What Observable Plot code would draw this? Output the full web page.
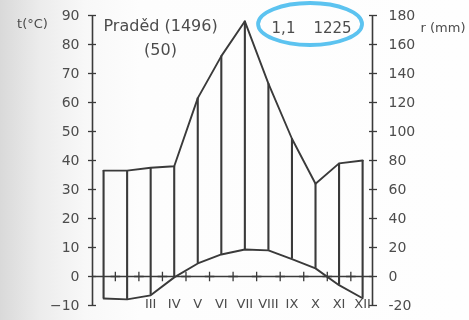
<!DOCTYPE html>
<html><head><meta charset="utf-8">
<script src="https://cdn.jsdelivr.net/npm/d3@7"></script>
<script src="https://cdn.jsdelivr.net/npm/@observablehq/plot@0.6"></script>
<style>
html,body{margin:0;padding:0;width:469px;height:320px;overflow:hidden;
background:linear-gradient(90deg,#d9d9d9 0px,#ececec 40px,#f8f8f8 85px,#fdfdfd 140px,#fefefe 100%);}
#chart svg{display:block;filter:blur(0.45px);}
</style></head><body><div id="chart"></div>
<script>
// Months
const months = [1,2,3,4,5,6,7,8,9,10,11,12];
const monthNames = ["I","II","III","IV","V","VI","VII","VIII","IX","X","XI","XII"];
// Temperature (°C) per month
const tempC = [-7.6, -7.9, -6.5, -0.3, 4.5, 7.6, 9.3, 9.0, 6.0, 2.8, -3.0, -7.5];
// Precipitation (mm) per month
const precipMm = [73, 73, 75, 76, 123, 152, 176, 133, 95, 64, 78, 80];
// Axis ticks
const tempTicks = [-10, 0, 10, 20, 30, 40, 50, 60, 70, 80, 90];
// Month boundary ticks on the zero line
const monthBoundaries = [1.5, 2.5, 3.5, 4.5, 5.5, 6.5, 7.5, 8.5, 9.5, 10.5, 11.5];
// Month labels visible in the picture (I and II are hidden under the bars)
const visibleMonths = [3,4,5,6,7,8,9,10,11,12];
// Header texts
const stationName = "Praděd (1496)";
const yearsText = "(50)";
const meanTempText = "1,1";
const annualPrecipText = "1225";
const leftTitle = "t(°C)";
const rightTitle = "r (mm)";
// x extent of the diagram in month units (axis positions)
const xDomain = [0.53, 12.42];

const data = months.map((m, i) => ({month: m, name: monthNames[i], t: tempC[i], r: precipMm[i]}));
const labelData = data.filter(d => visibleMonths.includes(d.month));

const ink = "#3a3a3a";
const textInk = "#4c4c4c";
const font = "'DejaVu Sans', sans-serif";

const plot = Plot.plot({
  width: 469, height: 320,
  marginLeft: 92, marginRight: 97, marginTop: 15, marginBottom: 15,
  style: {background: "transparent", color: ink, fontFamily: font, fontSize: "14px"},
  x: {domain: xDomain, axis: null},
  y: {domain: [-10, 90]},
  marks: [
    Plot.ruleX(xDomain, {stroke: ink, strokeWidth: 1.6}),
    Plot.ruleY([0], {stroke: ink, strokeWidth: 1.4}),
    Plot.dot(monthBoundaries, {x: d => d, y: 0, symbol: "plus", r: 3.2, stroke: ink, strokeWidth: 1.3}),
    Plot.ruleX(data, {x: "month", y1: "t", y2: d => d.r / 2, stroke: ink, strokeWidth: 2.1}),
    Plot.line(data, {x: "month", y: d => d.r / 2, stroke: ink, strokeWidth: 1.9}),
    Plot.line(data, {x: "month", y: "t", stroke: ink, strokeWidth: 1.9}),
    Plot.axisY({anchor: "left", ticks: tempTicks, tickSize: 4, tickPadding: 9, label: null, fontSize: 14, fill: textInk, stroke: ink, strokeWidth: 1.3}),
    Plot.axisY({anchor: "left", ticks: tempTicks, tickSize: -4, tickFormat: () => "", label: null, stroke: ink, strokeWidth: 1.3}),
    Plot.axisY({anchor: "right", ticks: tempTicks, tickSize: 4, tickPadding: 12, tickFormat: d => String(d * 2), label: null, fontSize: 14, fill: textInk, stroke: ink, strokeWidth: 1.3}),
    Plot.axisY({anchor: "right", ticks: tempTicks, tickSize: -4, tickFormat: () => "", label: null, stroke: ink, strokeWidth: 1.3}),
    Plot.text(labelData, {x: "month", y: -9.4, text: "name", fontSize: 13, fill: textInk}),
    Plot.text([stationName], {frameAnchor: "top-left", dx: 11, dy: 4, textAnchor: "start", fontSize: 16, fill: textInk}),
    Plot.text([yearsText], {frameAnchor: "top-left", dx: 68, dy: 28, textAnchor: "middle", fontSize: 16, fill: textInk}),
    Plot.text([meanTempText], {frameAnchor: "top-left", dx: 191, dy: 7, textAnchor: "middle", fontSize: 15, fill: textInk}),
    Plot.text([annualPrecipText], {frameAnchor: "top-left", dx: 240, dy: 7, textAnchor: "middle", fontSize: 15, fill: textInk}),
    Plot.text([leftTitle], {frameAnchor: "top-left", dx: -60, dy: 3, textAnchor: "middle", fontSize: 13, fill: textInk}),
    Plot.text([rightTitle], {frameAnchor: "top-right", dx: 48, dy: 7, textAnchor: "start", fontSize: 13, fill: textInk})
  ]
});

// blue hand-drawn ellipse annotation around "1,1  1225"
const xs = plot.scale("x"), ys = plot.scale("y");
const cx = xs.apply(9.79), cy = ys.apply(86.9);
const ell = document.createElementNS("http://www.w3.org/2000/svg", "ellipse");
ell.setAttribute("cx", cx); ell.setAttribute("cy", cy);
ell.setAttribute("rx", 52); ell.setAttribute("ry", 21);
ell.setAttribute("fill", "none"); ell.setAttribute("stroke", "#5cc3f0"); ell.setAttribute("stroke-width", 3.8);
plot.appendChild(ell);
document.getElementById("chart").appendChild(plot);
</script></body></html>
